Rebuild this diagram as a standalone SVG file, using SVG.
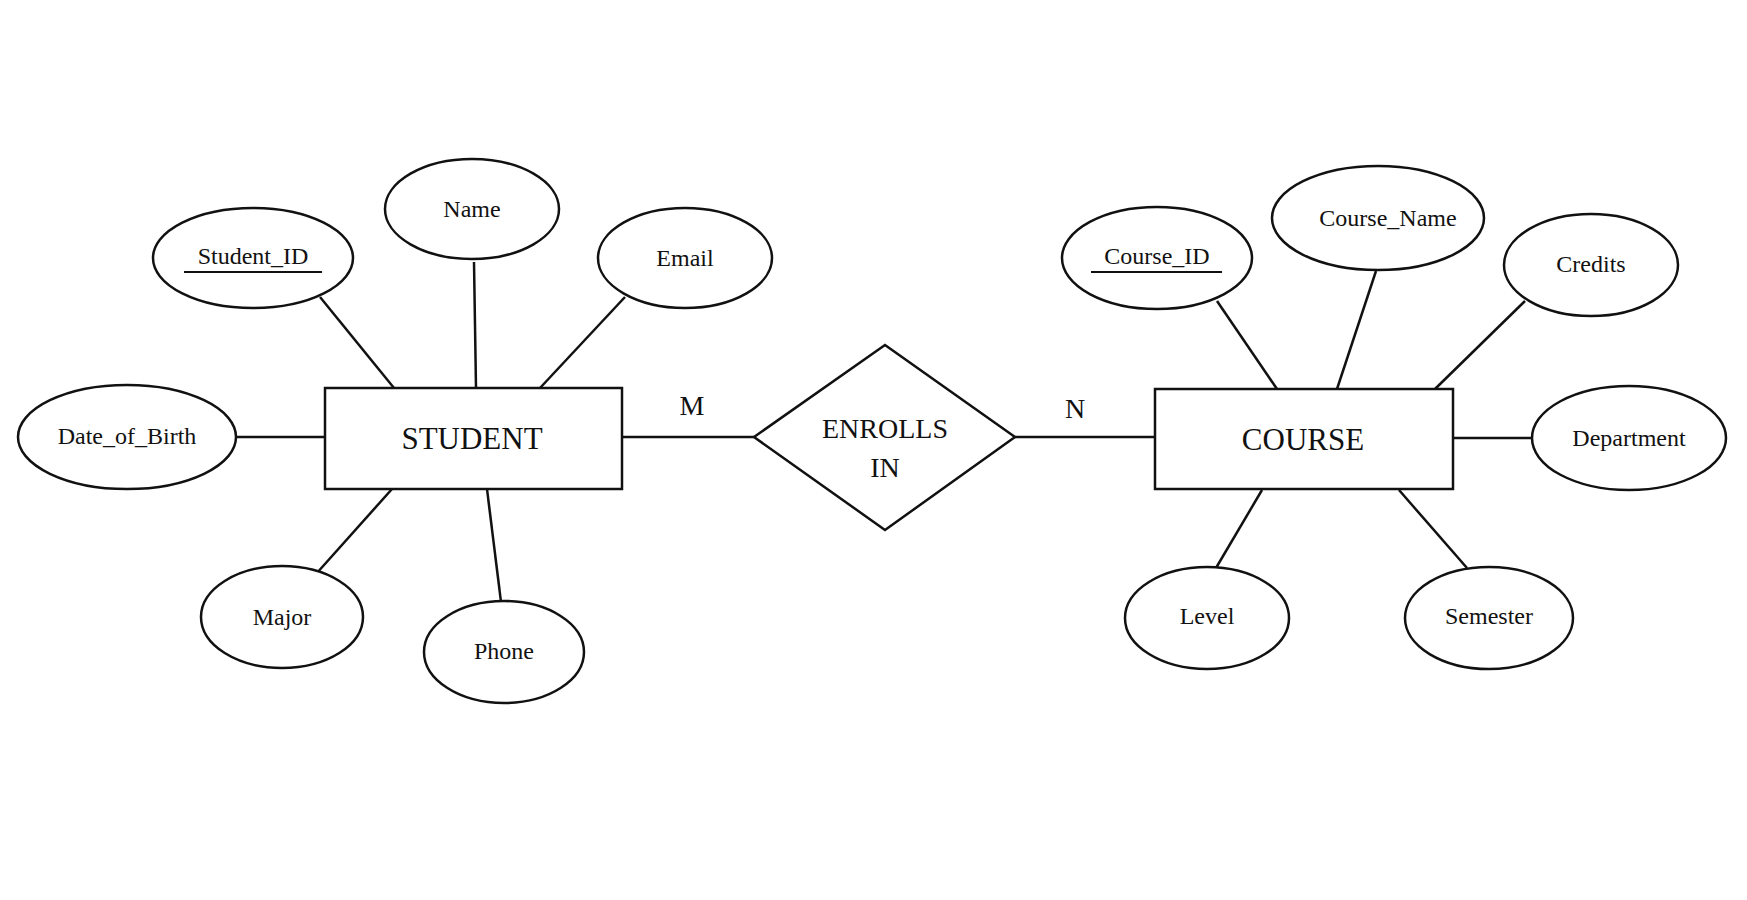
<svg xmlns="http://www.w3.org/2000/svg" width="1747" height="900" viewBox="0 0 1747 900">
<style>
.s{fill:#fff;stroke:#111;stroke-width:2.5}
.l{stroke:#111;stroke-width:2.5;fill:none}
text{font-family:"Liberation Serif","DejaVu Serif",serif;fill:#111;text-anchor:middle;dominant-baseline:central}
.a{font-size:24px}
.e{font-size:31px}
.c{font-size:28px}
</style>
<rect width="1747" height="900" fill="#fff"/>
<g id="connectors">
<line class="l" x1="320" y1="297" x2="394" y2="388"/>
<line class="l" x1="474" y1="262" x2="476" y2="388"/>
<line class="l" x1="625" y1="297" x2="540" y2="388"/>
<line class="l" x1="236" y1="437" x2="325" y2="437"/>
<line class="l" x1="316" y1="574" x2="392" y2="489"/>
<line class="l" x1="501" y1="602" x2="487" y2="489"/>
<line class="l" x1="622" y1="437" x2="754" y2="437"/>
<line class="l" x1="1015" y1="437" x2="1155" y2="437"/>
<line class="l" x1="1217" y1="301" x2="1277" y2="389"/>
<line class="l" x1="1376" y1="271" x2="1337" y2="389"/>
<line class="l" x1="1525" y1="301" x2="1435" y2="389"/>
<line class="l" x1="1453" y1="438" x2="1532" y2="438"/>
<line class="l" x1="1262" y1="490" x2="1216" y2="568"/>
<line class="l" x1="1399" y1="490" x2="1467" y2="568"/>
<text class="c" x="692" y="405">M</text>
<text class="c" x="1075" y="408">N</text>
</g>
<g id="student"><rect class="s" x="325" y="388" width="297" height="101"/><text class="e" x="472" y="438">STUDENT</text></g>
<g id="enrolls"><polygon class="s" points="754,437 885,345 1015,437 885,530"/><text class="c" x="885" y="428">ENROLLS</text><text class="c" x="885" y="467">IN</text></g>
<g id="course"><rect class="s" x="1155" y="389" width="298" height="100"/><text class="e" x="1303" y="439">COURSE</text></g>
<g id="student_id"><ellipse class="s" cx="253" cy="258" rx="100" ry="50"/><text class="a" x="253" y="256">Student_ID</text><line class="l" x1="184" y1="272" x2="322" y2="272" style="stroke-width:2"/></g>
<g id="name"><ellipse class="s" cx="472" cy="209" rx="87" ry="50"/><text class="a" x="472" y="209">Name</text></g>
<g id="email"><ellipse class="s" cx="685" cy="258" rx="87" ry="50"/><text class="a" x="685" y="258">Email</text></g>
<g id="dob"><ellipse class="s" cx="127" cy="437" rx="109" ry="52"/><text class="a" x="127" y="436">Date_of_Birth</text></g>
<g id="major"><ellipse class="s" cx="282" cy="617" rx="81" ry="51"/><text class="a" x="282" y="617">Major</text></g>
<g id="phone"><ellipse class="s" cx="504" cy="652" rx="80" ry="51"/><text class="a" x="504" y="651">Phone</text></g>
<g id="course_id"><ellipse class="s" cx="1157" cy="258" rx="95" ry="51"/><text class="a" x="1157" y="256">Course_ID</text><line class="l" x1="1091" y1="272" x2="1222" y2="272" style="stroke-width:2"/></g>
<g id="course_name"><ellipse class="s" cx="1378" cy="218" rx="106" ry="52"/><text class="a" x="1388" y="218">Course_Name</text></g>
<g id="credits"><ellipse class="s" cx="1591" cy="265" rx="87" ry="51"/><text class="a" x="1591" y="264">Credits</text></g>
<g id="department"><ellipse class="s" cx="1629" cy="438" rx="97" ry="52"/><text class="a" x="1629" y="438">Department</text></g>
<g id="level"><ellipse class="s" cx="1207" cy="618" rx="82" ry="51"/><text class="a" x="1207" y="616">Level</text></g>
<g id="semester"><ellipse class="s" cx="1489" cy="618" rx="84" ry="51"/><text class="a" x="1489" y="616">Semester</text></g>
</svg>
